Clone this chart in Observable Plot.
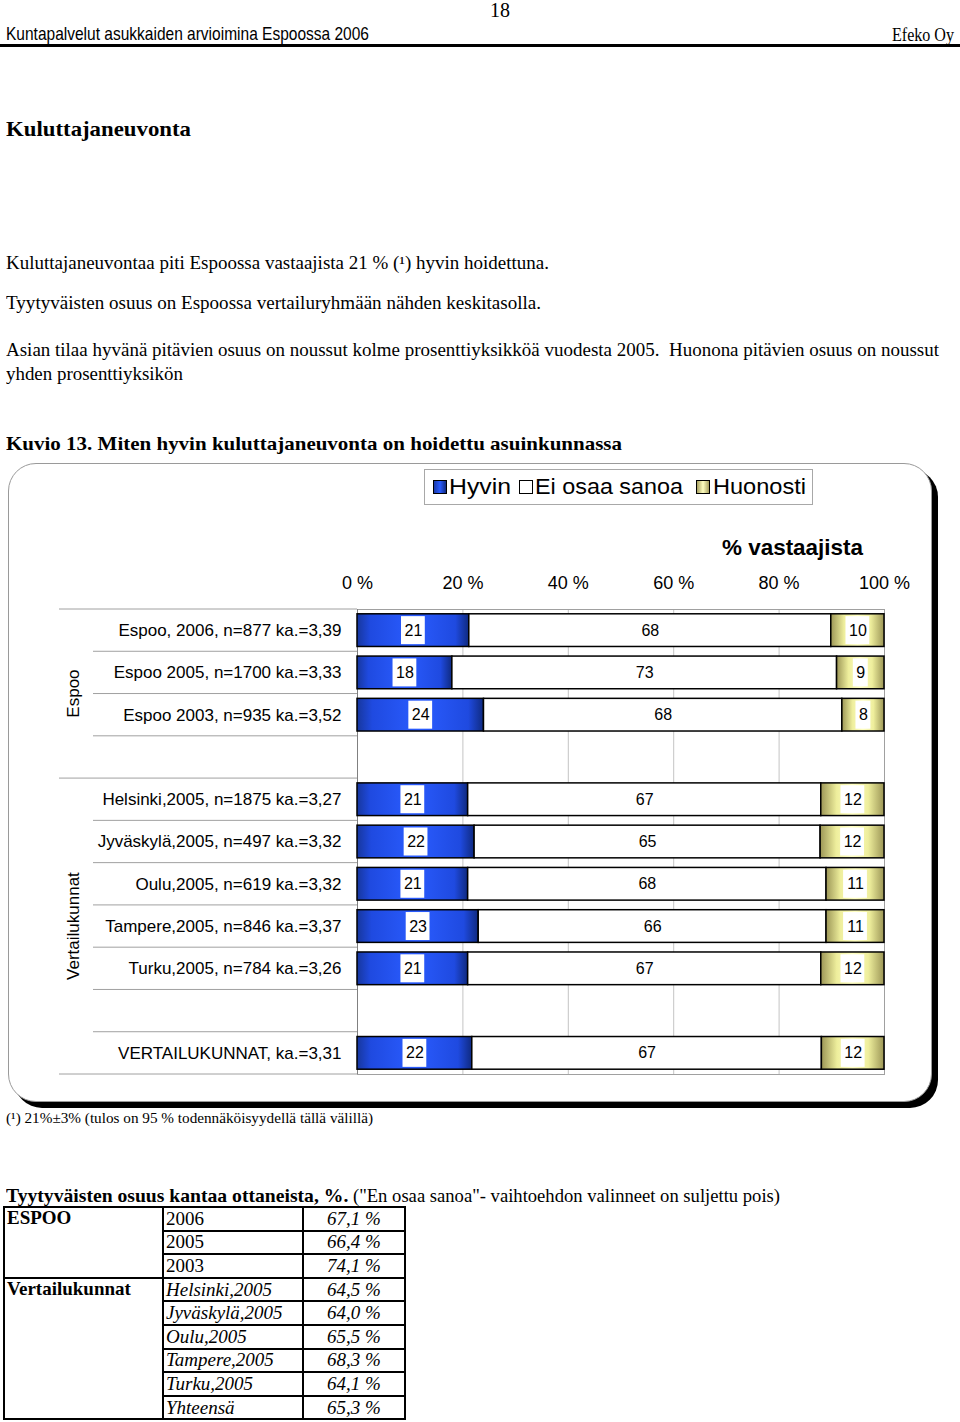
<!DOCTYPE html>
<html><head><meta charset="utf-8">
<script src="https://cdn.jsdelivr.net/npm/d3@7"></script>
<script src="https://cdn.jsdelivr.net/npm/@observablehq/plot@0.6"></script>
<style>
html,body{margin:0;padding:0;background:#fff;}
#page{position:relative;width:960px;height:1422px;overflow:hidden;background:#fff;}
.t{position:absolute;white-space:nowrap;font-family:"Liberation Serif","Times New Roman",serif;color:#000;}
.sans{font-family:"Liberation Sans",Arial,sans-serif;}
#frame{position:absolute;left:8px;top:463px;width:922px;height:637px;border:1px solid #9a9a9a;border-radius:28px;box-shadow:6px 6px 0 0 #000;background:#fff;}
#chart{position:absolute;left:0;top:463px;width:960px;height:640px;}
#legend{position:absolute;left:424px;top:469px;width:387px;height:34px;border:1px solid #a8a8a8;background:#fff;}
.sw{position:absolute;top:10px;width:12px;height:12px;border:1px solid #000;}
.lt{position:absolute;top:4px;line-height:26px;font-size:22px;font-family:"Liberation Sans",Arial,sans-serif;white-space:nowrap;}
#tbl{position:absolute;left:3px;top:1206px;width:401px;table-layout:fixed;border-collapse:collapse;font-family:"Liberation Serif","Times New Roman",serif;font-size:19px;}
#tbl td{border:2px solid #000;padding:0 2px;height:21.6px;line-height:20px;overflow:hidden;white-space:nowrap;}
</style></head>
<body><div id="page">
<div class="t" style="left:490px;top:0px;font-size:20px;line-height:20px;">18</div>
<div class="t sans" data-w="363" style="left:6px;top:23px;font-size:19px;line-height:22px;font-family:'Liberation Sans Narrow','Liberation Sans',Arial,sans-serif;">Kuntapalvelut asukkaiden arvioimina Espoossa 2006</div>
<div class="t" data-w="62" style="left:892px;top:25px;font-size:18px;line-height:20px;">Efeko Oy</div>
<div style="position:absolute;left:0;top:44px;width:960px;height:3px;background:#000;"></div>
<div class="t" data-w="185" style="left:6px;top:117px;font-size:21px;line-height:24px;font-weight:bold;">Kuluttajaneuvonta</div>
<div class="t" data-w="543" style="left:6px;top:252px;font-size:18px;line-height:22px;">Kuluttajaneuvontaa piti Espoossa vastaajista 21 % (¹) hyvin hoidettuna.</div>
<div class="t" data-w="535" style="left:6px;top:292px;font-size:18px;line-height:22px;">Tyytyväisten osuus on Espoossa vertailuryhmään nähden keskitasolla.</div>
<div class="t" data-w="933" style="left:6px;top:339px;font-size:18px;line-height:22px;">Asian tilaa hyvänä pitävien osuus on noussut kolme prosenttiyksikköä vuodesta 2005.&nbsp; Huonona pitävien osuus on noussut</div>
<div class="t" data-w="177" style="left:6px;top:363px;font-size:18px;line-height:22px;">yhden prosenttiyksikön</div>
<div class="t" data-w="616" style="left:6px;top:433px;font-size:19px;line-height:22px;font-weight:bold;">Kuvio 13. Miten hyvin kuluttajaneuvonta on hoidettu asuinkunnassa</div>
<div id="frame"></div>
<div id="chart"></div>
<div id="legend"></div>
<div class="t sans" data-w="141" style="left:722px;top:535px;font-size:22px;line-height:26px;font-weight:bold;">% vastaajista</div>
<div class="t" data-w="367" style="left:6px;top:1109px;font-size:15px;line-height:18px;">(¹) 21%±3% (tulos on 95 % todennäköisyydellä tällä välillä)</div>
<div class="t" data-w="774" style="left:6px;top:1185px;font-size:18px;line-height:22px;"><b style="font-size:19px;">Tyytyväisten osuus kantaa ottaneista, %.</b> ("En osaa sanoa"- vaihtoehdon valinneet on suljettu pois)</div>
<table id="tbl"><colgroup><col style="width:159px"><col style="width:140px"><col style="width:102px"></colgroup><tbody id="tbody"></tbody></table>
</div>
<script>
// ---------- DATA ----------
const categories = [
  "Espoo, 2006, n=877 ka.=3,39",
  "Espoo 2005, n=1700 ka.=3,33",
  "Espoo 2003, n=935 ka.=3,52",
  "",
  "Helsinki,2005, n=1875 ka.=3,27",
  "Jyväskylä,2005, n=497 ka.=3,32",
  "Oulu,2005, n=619 ka.=3,32",
  "Tampere,2005, n=846 ka.=3,37",
  "Turku,2005, n=784 ka.=3,26",
  " ",
  "VERTAILUKUNNAT, ka.=3,31"
];
const hyvin       = [21, 18, 24, null, 21, 22, 21, 23, 21, null, 22];
const eiOsaaSanoa = [68, 73, 68, null, 67, 65, 68, 66, 67, null, 67];
const huonosti    = [10,  9,  8, null, 12, 12, 11, 11, 12, null, 12];
const seriesNames = ["Hyvin", "Ei osaa sanoa", "Huonosti"];
const xTickLabels = [0, 20, 40, 60, 80, 100];
const groupNames = ["Espoo", "Vertailukunnat"];
const groupFirst = [0, 4];
const groupLast  = [3, 10];

const tableGroups = ["ESPOO", "Vertailukunnat"];
const tableGroupSize = [3, 6];
const tableRows = ["2006", "2005", "2003", "Helsinki,2005", "Jyväskylä,2005", "Oulu,2005", "Tampere,2005", "Turku,2005", "Yhteensä"];
const tableValues = [67.1, 66.4, 74.1, 64.5, 64.0, 65.5, 68.3, 64.1, 65.3];

// ---------- STYLE ----------
const seriesFill = {"Hyvin": "url(#gradHyvin)", "Ei osaa sanoa": "#ffffff", "Huonosti": "url(#gradHuonosti)"};
const legendSwatch = {"Hyvin": "linear-gradient(90deg,#1a3aa8,#2a5cff,#102a80)", "Ei osaa sanoa": "#fff", "Huonosti": "linear-gradient(90deg,#a8a060,#ffffc0,#a8a060)"};
const labelFontSize = 16;

// ---------- DERIVED ----------
const segments = [];
categories.forEach((c, i) => {
  const vals = [hyvin[i], eiOsaaSanoa[i], huonosti[i]];
  if (vals[0] == null) return;
  const total = d3.sum(vals);
  let cum = 0;
  vals.forEach((v, k) => {
    segments.push({row: c, series: seriesNames[k], value: v, x1: cum / total, x2: (cum + v) / total});
    cum += v;
  });
});
const boxedSegments = segments.filter(d => d.series !== "Ei osaa sanoa");
const mid = d => (d.x1 + d.x2) / 2;

function defsMark() {
  const defs = d3.create("svg:defs");
  const g1 = defs.append("linearGradient").attr("id", "gradHyvin").attr("x1", 0).attr("x2", 1).attr("y1", 0).attr("y2", 0);
  [[0, "#17379e"], [0.12, "#1f4ae0"], [0.5, "#2a5cff"], [0.88, "#1f4ae0"], [1, "#0f2a80"]].forEach(([o, c]) => g1.append("stop").attr("offset", o).attr("stop-color", c));
  const g2 = defs.append("linearGradient").attr("id", "gradHuonosti").attr("x1", 0).attr("x2", 1).attr("y1", 0).attr("y2", 0);
  [[0, "#9c9656"], [0.25, "#eeee9c"], [0.5, "#ffffc4"], [0.75, "#eeee9c"], [1, "#9c9656"]].forEach(([o, c]) => g2.append("stop").attr("offset", o).attr("stop-color", c));
  return defs.node();
}

// white label boxes (behind the value labels), sized from the label's digit count
function labelBoxes(index, scales) {
  const y = scales.y, x = scales.x;
  const step = y(categories[1]) - y(categories[0]);
  const g = d3.create("svg:g");
  boxedSegments.forEach(d => {
    const w = String(d.value).length * labelFontSize * 0.556 + 6;
    const cx = x(mid(d)), cy = y(d.row) + step / 2;
    g.append("rect").attr("x", cx - w / 2).attr("y", cy - 14).attr("width", w).attr("height", 28).attr("fill", "#fff");
  });
  return g.node();
}

function categoryDecor(index, scales, values, dimensions) {
  const y = scales.y;
  const step = y(categories[1]) - y(categories[0]);
  const axisX = dimensions.marginLeft;
  const innerLeft = axisX - 264, outerLeft = axisX - 298;
  const g = d3.create("svg:g");
  const bottom = y(categories[categories.length - 1]) + step;
  const ys = categories.map(c => y(c)).concat([bottom]);
  ys.forEach(yy => g.append("line").attr("x1", innerLeft).attr("x2", axisX).attr("y1", yy).attr("y2", yy).attr("stroke", "#a0a0a0"));
  groupFirst.map(i => y(categories[i])).concat([bottom]).forEach(yy =>
    g.append("line").attr("x1", outerLeft).attr("x2", innerLeft).attr("y1", yy).attr("y2", yy).attr("stroke", "#a0a0a0"));
  groupNames.forEach((name, k) => {
    const cy = (y(categories[groupFirst[k]]) + y(categories[groupLast[k]]) + step) / 2;
    const cx = axisX - 284;
    g.append("text").attr("transform", `translate(${cx},${cy}) rotate(-90)`)
      .attr("text-anchor", "middle").attr("dominant-baseline", "central")
      .attr("font-size", 17).attr("fill", "#000").text(name);
  });
  return g.node();
}

const bySeries = s => segments.filter(d => d.series === s);

const chart = Plot.plot({
  width: 960, height: 640,
  marginLeft: 357, marginRight: 76, marginTop: 146, marginBottom: 29,
  x: {domain: [0, 1]},
  y: {domain: categories, padding: 0, round: false},
  style: {fontFamily: "Liberation Sans, Arial, sans-serif", fontSize: "17px", color: "#000", background: "transparent", overflow: "visible"},
  marks: [
    defsMark,
    Plot.ruleX(xTickLabels.slice(1).map(t => t / 100), {stroke: "#c4c4c4"}),
    Plot.frame({stroke: "#a0a0a0"}),
    Plot.ruleX([0], {stroke: "#808080"}),
    ...seriesNames.map(s => Plot.barX(bySeries(s), {x1: "x1", x2: "x2", y: "row", fill: seriesFill[s], stroke: "#000", strokeWidth: 1.5, insetTop: 4.8, insetBottom: 4.8})),
    labelBoxes,
    Plot.text(segments, {x: mid, y: "row", text: d => String(d.value), fontSize: labelFontSize, fill: "#000"}),
    Plot.axisX(xTickLabels.map(t => t / 100), {anchor: "top", tickSize: 0, tickPadding: 21, tickFormat: d => `${Math.round(d * 100)} %`, fontSize: 18, label: null}),
    Plot.axisY({tickSize: 0, tickPadding: 16, fontSize: 17, label: null}),
    categoryDecor
  ]
});
document.getElementById("chart").appendChild(chart);

// legend
const legend = document.getElementById("legend");
const swLeft = [8, 94, 271], txtLeft = [24, 110, 288], txtW = [62, 148, 93];
seriesNames.forEach((s, i) => {
  const sw = document.createElement("div");
  sw.className = "sw"; sw.style.left = swLeft[i] + "px"; sw.style.background = legendSwatch[s];
  legend.appendChild(sw);
  const tx = document.createElement("div");
  tx.className = "lt"; tx.style.left = txtLeft[i] + "px"; tx.dataset.w = txtW[i]; tx.textContent = s;
  legend.appendChild(tx);
});

// table
const tbody = document.getElementById("tbody");
let ri = 0;
tableGroups.forEach((gname, gi) => {
  for (let k = 0; k < tableGroupSize[gi]; k++) {
    const tr = document.createElement("tr");
    if (k === 0) {
      const td = document.createElement("td");
      td.rowSpan = tableGroupSize[gi];
      td.style.cssText = "font-weight:bold;vertical-align:top;";
      td.textContent = gname;
      tr.appendChild(td);
    }
    const italic = gi > 0;
    const td2 = document.createElement("td");
    if (italic) td2.style.fontStyle = "italic";
    td2.textContent = tableRows[ri];
    const td3 = document.createElement("td");
    td3.style.cssText = "font-style:italic;text-align:center;";
    td3.textContent = tableValues[ri].toFixed(1).replace(".", ",") + " %";
    tr.appendChild(td2); tr.appendChild(td3);
    tbody.appendChild(tr);
    ri++;
  }
});

// fit text widths
document.querySelectorAll("[data-w]").forEach(el => {
  const w = el.getBoundingClientRect().width;
  const target = +el.dataset.w;
  if (w > 0) { el.style.transformOrigin = "left center"; el.style.transform = `scaleX(${target / w})`; }
});
</script>
</body></html>
